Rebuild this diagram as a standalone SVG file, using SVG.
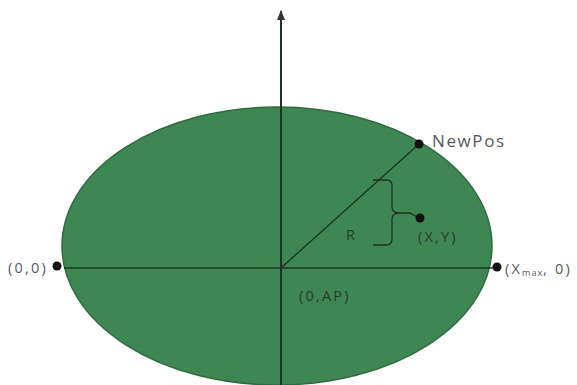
<svg xmlns="http://www.w3.org/2000/svg" width="577" height="385" viewBox="0 0 577 385">
<style>
.lbl{font-family:"Open Sans","Liberation Sans",sans-serif;font-size:14.5px;letter-spacing:2.2px;fill:#555a5e}
.dk{fill:#2b3b31}
.ax{stroke:#1e3327;stroke-width:2;fill:none}
.thin{stroke:#1e3327;stroke-width:1.3;fill:none}
.dot{fill:#111}
</style>
<defs>
<marker id="ah" markerWidth="10" markerHeight="8" refX="9" refY="4" orient="auto" markerUnits="userSpaceOnUse" viewBox="0 0 10 8">
<path d="M0 0 L10 4 L0 8 Z" fill="#333"/>
</marker>
</defs>
<rect width="577" height="385" fill="#fff"/>
<g id="ellipse">
<ellipse cx="277" cy="246" rx="215" ry="139" fill="#3e8752" stroke="#2f6a40" stroke-width="1.5"/>
</g>
<g id="connectors">
<line class="ax" x1="281" y1="385" x2="281" y2="11" marker-end="url(#ah)"/>
<line class="thin" x1="64" y1="268" x2="493" y2="268"/>
<line class="thin" x1="281" y1="268" x2="419" y2="144"/>
<path class="thin" d="M373 180 L387 180 Q392 180 392 186 L392 207 Q392 213 400 213 L410 213 L419 218 M400 213 Q392 213 392 219 L392 239 Q392 245 386 245 L373 245"/>
</g>
<g id="newpos"><circle class="dot" cx="419" cy="144" r="4.5"/><text class="lbl" x="432" y="147" style="font-size:17px;letter-spacing:1.6px">NewPos</text></g>
<g id="xy"><circle class="dot" cx="420" cy="218" r="4.5"/><text class="lbl dk" x="418" y="242">(X,Y)</text></g>
<g id="r"><text class="lbl dk" x="346" y="240">R</text></g>
<g id="origin"><circle class="dot" cx="57" cy="266" r="4.5"/><text class="lbl" x="8" y="273">(0,0)</text></g>
<g id="xmax"><circle class="dot" cx="497" cy="267" r="4.5"/><text class="lbl" x="505" y="274">(X<tspan style="font-size:9px;letter-spacing:1px" dy="2">max</tspan><tspan dy="-2">, 0)</tspan></text></g>
<g id="ap"><text class="lbl dk" x="299" y="301">(0,AP)</text></g>
</svg>
